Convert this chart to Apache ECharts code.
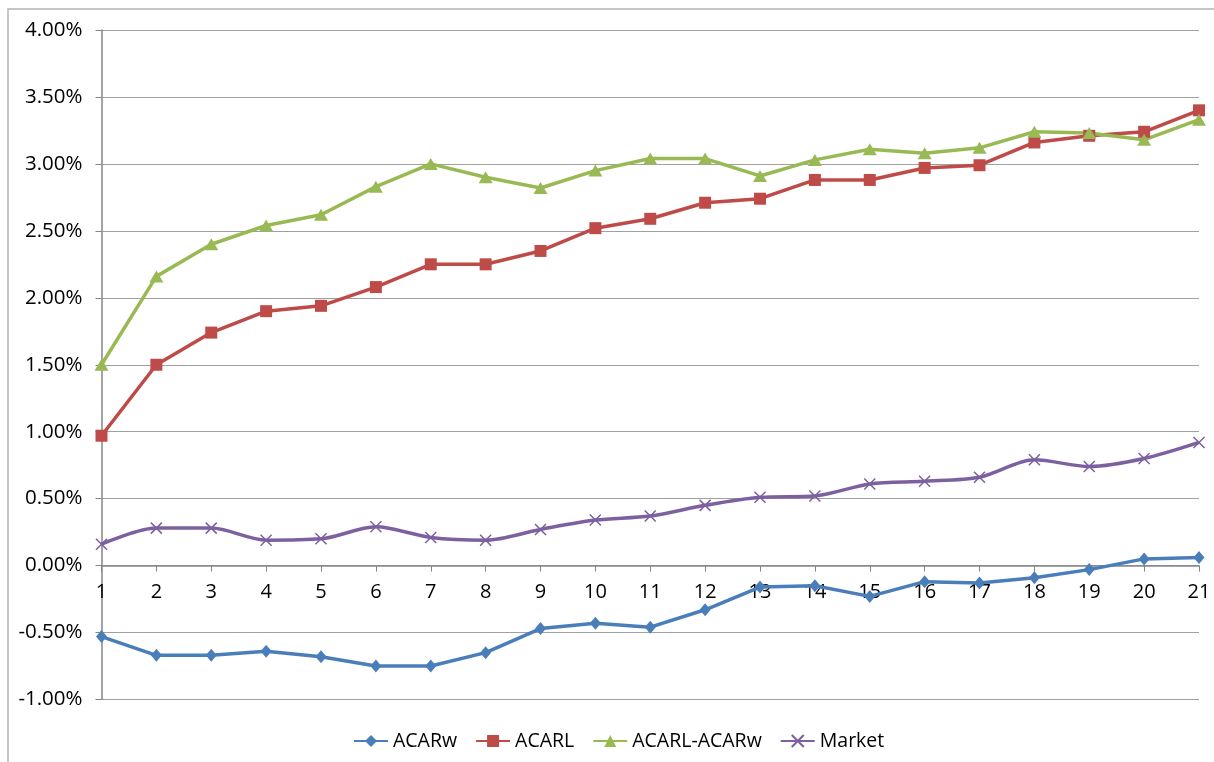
<!DOCTYPE html>
<html>
<head>
<meta charset="utf-8">
<title>ACAR</title>
<script src="https://cdn.jsdelivr.net/npm/echarts@6/dist/echarts.min.js"></script>
<style>
  html, body { margin: 0; padding: 0; background: #fff; }
  #chart { width: 1214px; height: 762px; }
</style>
</head>
<body>
<div id="chart"></div>
<script>
// Event-window days
const days = ['1','2','3','4','5','6','7','8','9','10','11','12','13','14','15','16','17','18','19','20','21'];

// Cumulative abnormal returns, in percent
const acarW = [-0.53, -0.67, -0.67, -0.64, -0.68, -0.75, -0.75, -0.65, -0.47, -0.43, -0.46, -0.33, -0.16, -0.15, -0.23, -0.12, -0.13, -0.09, -0.03, 0.05, 0.06];
const acarL = [0.97, 1.50, 1.74, 1.90, 1.94, 2.08, 2.25, 2.25, 2.35, 2.52, 2.59, 2.71, 2.74, 2.88, 2.88, 2.97, 2.99, 3.16, 3.21, 3.24, 3.40];
const acarDiff = [1.50, 2.16, 2.40, 2.54, 2.62, 2.83, 3.00, 2.90, 2.82, 2.95, 3.04, 3.04, 2.91, 3.03, 3.11, 3.08, 3.12, 3.24, 3.23, 3.18, 3.33];
const market = [0.16, 0.28, 0.28, 0.19, 0.20, 0.29, 0.21, 0.19, 0.27, 0.34, 0.37, 0.45, 0.51, 0.52, 0.61, 0.63, 0.66, 0.79, 0.74, 0.80, 0.92];

const FONT = '"Open Sans", "Noto Sans", sans-serif';
const crossMark = 'path://M0,0L10,10M10,0L0,10';
const AXIS_GRAY = '#868686';

function lineSeries(name, data, color, symbol, size, extra) {
  return Object.assign({
    name: name,
    type: 'line',
    data: data,
    color: color,
    symbol: symbol,
    symbolSize: size,
    showSymbol: true,
    lineStyle: { width: 3.5, color: color },
    itemStyle: { color: color },
    emphasis: { disabled: true },
    animation: false
  }, extra || {});
}

const chart = echarts.init(document.getElementById('chart'), null, { renderer: 'canvas' });

chart.setOption({
  backgroundColor: '#fff',
  animation: false,
  graphic: [{
    type: 'rect',
    shape: { x: 8, y: 9, width: 1230, height: 780 },
    style: { fill: 'none', stroke: '#b4b4b4', lineWidth: 1.5 },
    silent: true,
    z: -1
  }],
  grid: { left: 101.5, right: 15, top: 30, bottom: 62.5, containLabel: false },
  legend: {
    left: 353,
    top: 731,
    padding: 0,
    itemWidth: 34,
    itemHeight: 15,
    itemGap: 18,
    textStyle: { fontFamily: FONT, fontSize: 19.5, color: '#000' },
    data: ['ACARw', 'ACARL', 'ACARL-ACARw', 'Market']
  },
  xAxis: {
    type: 'category',
    data: days,
    boundaryGap: false,
    axisLine: { onZero: false, lineStyle: { color: AXIS_GRAY, width: 1.5 } },
    axisTick: { show: true, interval: 0, length: 6, lineStyle: { color: AXIS_GRAY, width: 1 } },
    axisLabel: { interval: 0, margin: 17, fontFamily: FONT, fontSize: 20, color: '#000' },
    splitLine: { show: false }
  },
  yAxis: {
    type: 'value',
    min: -1,
    max: 4,
    interval: 0.5,
    axisLine: { show: true, lineStyle: { color: AXIS_GRAY, width: 1.5 } },
    axisTick: { show: true, length: 6, lineStyle: { color: AXIS_GRAY, width: 1 } },
    axisLabel: {
      margin: 19,
      fontFamily: FONT,
      fontSize: 20.5,
      color: '#000',
      formatter: v => v.toFixed(2) + '%'
    },
    splitLine: { show: true, lineStyle: { color: '#a0a0a0', width: 1.2 } }
  },
  series: [
    lineSeries('ACARw', acarW, '#4a7ebb', 'diamond', [11, 13]),
    lineSeries('ACARL', acarL, '#be4b48', 'rect', 12),
    lineSeries('ACARL-ACARw', acarDiff, '#98b954', 'triangle', [14, 12]),
    lineSeries('Market', market, '#7d60a0', crossMark, 11, {
      smooth: 0.3,
      itemStyle: { color: '#7d60a0', borderColor: '#7d60a0', borderWidth: 1.5 }
    })
  ]
});

// Place the category axis (line, ticks and labels together) on the 0% level
const yZero = chart.convertToPixel({ yAxisIndex: 0 }, 0);
const yFloor = chart.convertToPixel({ yAxisIndex: 0 }, -1);
chart.setOption({ xAxis: { offset: yZero - yFloor } });
</script>
</body>
</html>
